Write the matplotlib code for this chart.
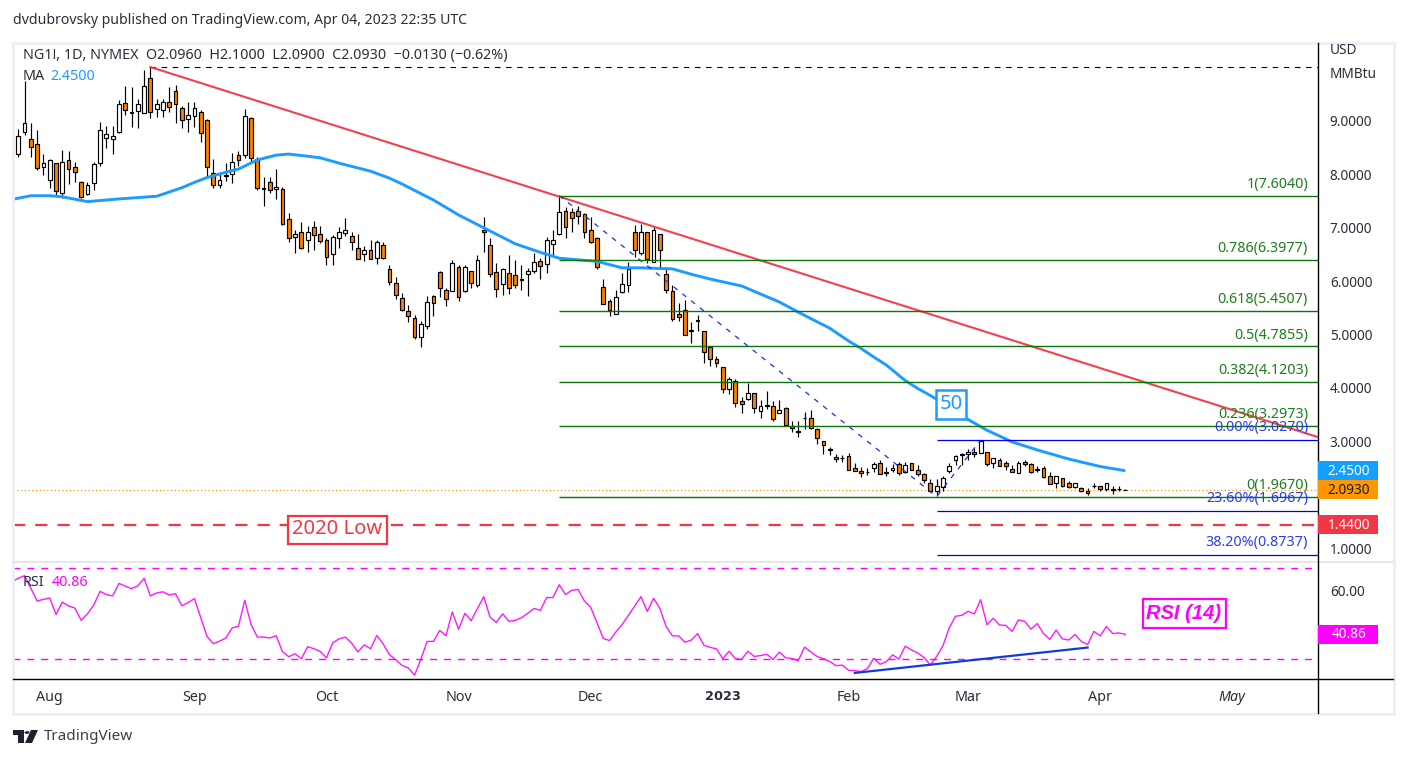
import matplotlib
matplotlib.use('Agg')
import matplotlib.pyplot as plt
from matplotlib.patches import Rectangle, Polygon, Circle

plt.rcParams['font.family'] = ['Noto Sans', 'DejaVu Sans']

# daily candles
opens = [8.38,8.79,8.67,8.56,8.13,7.89,8.21,7.65,8.26,8.13,7.85,7.64,7.83,8.21,8.69,8.66,8.79,9.33,9.16,9.18,9.14,9.80,9.22,9.21,9.35,9.57,9.24,9.04,9.10,9.16,
         9.01,8.02,7.81,7.98,8.00,8.36,8.37,9.05,8.28,7.74,7.85,7.72,7.72,7.16,6.82,6.92,6.77,7.01,6.88,6.78,6.50,6.80,6.90,6.84,6.63,6.50,6.58,6.43,6.67,6.23,
         5.96,5.68,5.44,5.31,4.95,5.17,5.72,6.17,5.83,5.81,6.26,5.81,6.19,5.92,6.95,6.67,6.17,5.94,6.15,6.11,6.05,6.13,6.19,6.37,6.32,6.69,6.88,7.31,7.29,7.31,
         7.25,6.95,6.80,5.89,5.62,5.38,5.79,5.92,6.93,6.52,6.93,6.35,6.88,6.13,5.81,5.38,5.46,5.08,5.27,5.06,4.76,4.54,4.39,3.99,4.14,3.75,3.79,3.90,3.56,3.68,
         3.66,3.54,3.62,3.28,3.19,3.44,3.43,3.23,3.00,2.85,2.70,2.69,2.72,2.50,2.44,2.43,2.50,2.59,2.42,2.46,2.57,2.42,2.59,2.46,2.39,2.22,2.07,2.15,2.44,2.65,
         2.76,2.76,2.80,2.78,2.81,2.59,2.65,2.59,2.48,2.41,2.61,2.57,2.48,2.51,2.35,2.23,2.31,2.22,2.14,2.12,2.08,2.17,2.17,2.10,2.10,2.11,2.096]
highs = [8.85,9.74,8.97,8.83,8.38,8.29,8.21,8.46,8.44,8.23,7.88,7.86,8.24,8.98,8.91,8.91,9.39,9.66,9.63,9.41,9.95,10.01,9.42,9.41,9.64,9.67,9.28,9.36,9.36,9.21,
         9.03,8.29,8.04,8.21,8.40,8.44,9.22,9.08,8.32,7.95,7.96,8.10,7.76,7.27,6.96,7.10,7.03,7.13,7.03,6.80,6.87,7.01,7.18,6.92,6.88,6.66,6.78,6.77,6.74,6.30,
         6.07,5.77,5.55,5.36,5.26,5.72,5.74,6.19,5.87,6.40,6.30,6.30,6.20,6.49,7.20,6.80,6.34,6.24,6.49,6.40,6.30,6.24,6.52,6.43,6.82,6.96,7.60,7.38,7.37,7.41,
         7.28,7.20,6.82,6.04,5.66,5.84,6.15,6.36,7.05,7.08,6.93,7.02,6.88,6.26,5.92,5.59,5.65,5.23,5.36,5.06,4.78,4.60,4.40,4.20,4.16,3.83,4.10,3.90,3.78,3.94,
         3.75,3.78,3.64,3.38,3.38,3.55,3.58,3.25,3.00,2.89,2.77,2.75,2.78,2.59,2.52,2.50,2.62,2.65,2.52,2.57,2.61,2.61,2.59,2.55,2.40,2.29,2.29,2.36,2.59,2.75,
         2.78,2.85,2.87,3.03,2.81,2.68,2.68,2.63,2.55,2.63,2.66,2.59,2.54,2.53,2.43,2.35,2.31,2.26,2.22,2.15,2.12,2.22,2.17,2.23,2.16,2.16,2.10]
lows = [8.33,8.74,8.33,8.08,7.99,7.74,7.61,7.55,7.82,7.85,7.55,7.61,7.70,8.16,8.50,8.38,8.78,9.11,8.89,8.86,9.14,9.05,9.07,9.08,9.17,8.97,8.86,8.80,8.89,8.61,
        7.96,7.75,7.74,7.88,7.83,8.15,8.30,8.21,7.71,7.40,7.65,7.54,7.05,6.74,6.52,6.61,6.55,6.58,6.71,6.30,6.30,6.63,6.85,6.58,6.41,6.37,6.41,6.33,6.41,5.92,
        5.67,5.44,5.24,4.91,4.76,5.11,5.34,5.71,5.54,5.81,5.62,5.79,5.87,5.90,6.55,6.07,5.71,5.75,5.76,5.87,5.84,5.72,6.16,6.05,6.15,6.47,6.87,6.80,6.93,7.08,
        6.80,6.71,6.22,5.57,5.34,5.38,5.77,5.79,6.46,6.49,6.34,6.35,6.22,5.77,5.26,5.26,4.99,4.84,5.07,4.46,4.42,4.39,3.90,3.89,3.65,3.53,3.78,3.54,3.43,3.61,
        3.39,3.53,3.30,3.18,3.09,3.24,3.23,2.96,2.77,2.75,2.62,2.62,2.46,2.44,2.34,2.37,2.43,2.39,2.35,2.42,2.38,2.40,2.46,2.35,2.23,2.05,1.97,2.08,2.40,2.55,
        2.56,2.65,2.70,2.78,2.53,2.50,2.53,2.47,2.42,2.40,2.53,2.40,2.42,2.32,2.20,2.13,2.15,2.13,2.13,2.06,1.99,2.12,2.08,2.08,2.02,2.08,2.09]
closes = [8.71,8.97,8.52,8.11,8.21,8.26,7.68,8.24,8.10,8.04,7.57,7.81,8.19,8.84,8.75,8.71,9.31,9.21,9.14,9.31,9.65,9.16,9.31,9.35,9.27,9.31,9.01,9.11,9.24,8.77,
          8.13,7.81,7.89,7.97,8.23,8.26,9.09,8.30,7.74,7.72,7.71,7.76,7.07,6.80,6.88,6.63,6.93,6.86,6.75,6.45,6.82,6.92,6.95,6.73,6.41,6.58,6.41,6.73,6.43,5.98,
          5.74,5.46,5.34,4.95,5.19,5.61,5.59,5.87,5.66,6.34,5.70,6.26,5.96,6.39,6.93,6.13,5.85,6.22,5.87,5.92,6.02,6.19,6.35,6.28,6.77,6.77,7.29,7.01,7.18,7.22,
          6.92,6.73,6.26,5.57,5.46,5.70,5.94,6.22,6.58,6.92,6.41,6.95,6.58,5.83,5.30,5.32,4.99,5.06,5.26,4.67,4.54,4.46,3.98,4.16,3.71,3.70,3.90,3.62,3.66,3.67,
          3.41,3.58,3.30,3.26,3.17,3.43,3.25,3.06,2.93,2.84,2.67,2.68,2.46,2.44,2.40,2.42,2.57,2.39,2.40,2.50,2.40,2.55,2.46,2.39,2.27,2.07,2.16,2.31,2.53,2.72,
          2.75,2.80,2.76,3.00,2.57,2.68,2.53,2.53,2.42,2.59,2.57,2.42,2.47,2.33,2.21,2.35,2.16,2.14,2.22,2.08,2.03,2.16,2.10,2.22,2.09,2.11,2.093]

# 50 day average, read at the bars where it bends
ma_idx = [-1,2,5,7,11,16,22,24,26,28,30,33,35,38,41,43,46,48,51,54,56,59,61,63,66,70,74,79,83,86,92,96,99,104,107,110,115,118,121,124,127,129,132,134,136,138,141,143,145,148,151,154,158,162,167,172,176]
ma_vals = [7.53,7.60,7.60,7.58,7.49,7.54,7.59,7.67,7.75,7.85,7.94,8.04,8.10,8.27,8.36,8.38,8.34,8.31,8.21,8.12,8.06,7.93,7.82,7.70,7.52,7.24,7.00,6.70,6.54,6.43,6.37,6.25,6.25,6.23,6.13,6.04,5.91,5.76,5.61,5.42,5.24,5.12,4.88,4.74,4.58,4.43,4.14,3.99,3.86,3.65,3.41,3.21,2.99,2.84,2.67,2.53,2.45]

rsi_vals = [65.4,66.6,61.0,55.5,56.2,56.8,49.6,55.0,53.3,52.4,47.0,49.9,53.7,59.7,58.3,57.7,63.2,62.0,60.9,62.1,65.4,57.7,59.0,59.5,58.1,58.7,53.4,54.8,56.5,48.2,
            40.0,36.8,37.9,39.3,43.7,44.4,55.8,45.3,39.7,39.7,39.3,40.3,33.3,31.1,32.4,30.2,35.5,34.6,33.4,30.6,37.2,38.9,39.7,37.0,33.2,36.3,34.6,40.4,36.7,32.0,
            29.8,27.3,26.2,23.0,30.0,37.8,37.8,42.6,40.3,50.7,43.1,50.1,46.9,52.1,57.4,48.4,46.1,49.9,46.6,47.0,48.2,50.1,52.2,51.4,57.0,57.0,62.6,58.3,60.2,60.5,
            55.5,52.7,46.0,39.1,38.2,41.9,45.2,49.2,53.3,57.4,50.9,56.7,52.2,44.3,40.2,40.2,37.4,38.4,41.2,36.1,35.2,34.5,30.3,33.5,30.2,30.0,33.5,31.2,31.6,32.2,
            29.9,33.1,30.6,30.3,29.4,35.3,33.2,31.2,30.2,29.0,27.2,27.4,25.2,25.0,24.6,25.9,30.4,27.8,28.9,31.9,30.1,35.7,34.1,32.7,30.8,27.4,31.2,35.9,43.7,48.8,
            49.2,51.0,49.8,56.1,45.1,47.9,45.0,44.8,42.2,47.2,46.6,43.2,45.6,41.2,38.7,42.8,38.9,38.4,40.8,37.8,36.4,42.2,40.2,44.3,41.2,41.5,40.86]

fib_levels = [7.6040, 6.3977, 5.4507, 4.7855, 4.1203, 3.2973, 1.9670]
fib_labels = ['1(7.6040)', '0.786(6.3977)', '0.618(5.4507)', '0.5(4.7855)', '0.382(4.1203)', '0.236(3.2973)', '0(1.9670)']
ext_levels = [3.0270, 1.6967, 0.8737]
ext_labels = ['0.00%(3.0270)', '23.60%(1.6967)', '38.20%(0.8737)']

price_ticks = [1, 3, 4, 5, 6, 7, 8, 9]
month_pos = [5, 28, 49, 70, 91, 112, 132, 151, 172, 193]
month_names = ['Aug', 'Sep', 'Oct', 'Nov', 'Dec', '2023', 'Feb', 'Mar', 'Apr', 'May']

W, H = 1406, 758
ORANGE = '#ff7f00'
BLUE = '#1e9bff'
RED = '#f23645'
GREEN = '#0a750a'
MAGENTA = '#ff00ff'
TEXT = '#2a2e39'
FRAME = '#eeeef4'
FS = 10.3
TICK_FS = 9.8

def box(x0, y0, x1, y1):
    # pixel box (from top left) to figure fractions
    return [x0 / W, 1 - y1 / H, (x1 - x0) / W, (y1 - y0) / H]

fig = plt.figure(figsize=(W / 100, H / 100), dpi=100, facecolor='white')
ax = fig.add_axes(box(13, 43, 1318, 561.5))
ax2 = fig.add_axes(box(13, 561.5, 1318, 679))

idx = list(range(len(opens)))
colors = [ORANGE if c < o else 'white' for o, c in zip(opens, closes)]
ax.vlines(idx, lows, highs, colors='black', lw=0.85, zorder=3)
ax.bar(idx, [abs(c - o) for o, c in zip(opens, closes)], bottom=[min(o, c) for o, c in zip(opens, closes)],
       width=0.6, color=colors, edgecolor='black', lw=0.85, zorder=3)
ax.plot(ma_idx, ma_vals, color=BLUE, lw=2.1, zorder=4, solid_capstyle='butt')

# drawings
xmax = 206.63
ax.plot([21, xmax], [10.01, 10.01], color='black', lw=0.8, dashes=(5, 5), zorder=5)
ax.plot([21, xmax], [10.01, 3.08], color=RED, lw=1.5, alpha=0.95, zorder=5)
ax.plot([-0.84, xmax], [1.44, 1.44], color=RED, lw=1.6, dashes=(5.5, 4.5), zorder=5)
ax.plot([-0.84, xmax], [2.093, 2.093], color='#ff9800', lw=0.9, ls=(0, (1, 2)), zorder=2)
ax.plot([86, 146, 153], [7.604, 1.967, 3.027], color='#1c30d8', lw=0.9, dashes=(4, 5), zorder=5)
ax.hlines(fib_levels, 86, xmax, color=GREEN, lw=1.0, zorder=5)
ax.hlines(ext_levels, 146, xmax, color='#0000ee', lw=0.9, zorder=5)

for lvl, lab in zip(fib_levels, fib_labels):
    ax.annotate(lab, xy=(1, lvl), xycoords=('axes fraction', 'data'), xytext=(-10, 11), textcoords='offset pixels',
                ha='right', va='center', fontsize=FS, color='#1e7d1e', zorder=6)
for lvl, lab in zip(ext_levels, ext_labels):
    ax.annotate(lab, xy=(1, lvl), xycoords=('axes fraction', 'data'), xytext=(-10, 12), textcoords='offset pixels',
                ha='right', va='center', fontsize=FS, color='#2a3cf0', zorder=6)

ax.set_xlim(-0.84, xmax)
ax.set_ylim(0.751, 10.46)
ax.yaxis.tick_right()
ax.set_yticks(price_ticks)
ax.set_yticklabels(['%.4f' % t for t in price_ticks], fontsize=TICK_FS, color=TEXT)
ax.tick_params(axis='y', length=0, pad=8.5)
ax.set_xticks([])

# rsi pane
ax2.plot([-1] + idx, [64.0] + rsi_vals, color=MAGENTA, lw=1.0, alpha=0.9, zorder=3)
ax2.axhline(70, color=MAGENTA, lw=1.0, dashes=(5, 5))
ax2.axhline(30, color=MAGENTA, lw=1.0, dashes=(5, 5))
ax2.plot([133, 170], [24.0, 35.1], color='#0f3ddb', lw=1.6, zorder=4)
ax2.set_xlim(-0.84, xmax)
ax2.set_ylim(21.34, 72.77)
ax2.yaxis.tick_right()
ax2.set_yticks([60])
ax2.set_yticklabels(['60.00'], fontsize=TICK_FS, color=TEXT)
ax2.tick_params(axis='y', length=0, pad=8.5)
ax2.set_xticks(month_pos)
ax2.set_xticklabels(month_names, fontsize=FS, color=TEXT)
ax2.tick_params(axis='x', length=0, pad=8)
for lab in ax2.get_xticklabels():
    if lab.get_text() == '2023':
        lab.set_family('DejaVu Sans')
        lab.set_fontweight('bold')
        lab.set_fontsize(9.3)
    if lab.get_text() == 'May':
        lab.set_fontstyle('italic')

for a in (ax, ax2):
    for s in a.spines.values():
        s.set_visible(False)

def fig_rect(x0, y0, x1, y1, **kw):
    fig.add_artist(Rectangle((x0 / W, 1 - y1 / H), (x1 - x0) / W, (y1 - y0) / H, transform=fig.transFigure, **kw))

def fig_line(x0, y0, x1, y1, color, lw):
    fig.add_artist(plt.Line2D([x0 / W, x1 / W], [1 - y0 / H, 1 - y1 / H], color=color, lw=lw, transform=fig.transFigure))

def fig_text(x, y, s, **kw):
    kw.setdefault('fontsize', FS)
    kw.setdefault('color', TEXT)
    kw.setdefault('va', 'center')
    return fig.text(x / W, 1 - y / H, s, **kw)

# frame and pane rules
fig_rect(12.5, 42.5, 1393.5, 714, fill=False, ec=FRAME, lw=2)
fig_line(13, 561.5, 1393, 561.5, '#e2e3e8', 1.2)
fig_line(13, 679, 1393, 679, 'black', 1.0)
fig_line(1318, 43, 1318, 713, 'black', 1.0)

# header
fig_text(13, 20, 'dvdubrovsky published on TradingView.com, Apr 04, 2023 22:35 UTC', fontsize=10.15)
fig_text(23, 55, 'NG1!, 1D, NYMEX  O2.0960  H2.1000  L2.0900  C2.0930  \u22120.0130 (\u22120.62%)')
fig_text(23, 76, 'MA')
fig_text(50, 76, '2.4500', color=BLUE)
fig_text(23, 583, 'RSI')
fig_text(52, 583, '40.86', color=MAGENTA)
fig_text(1330, 50, 'USD', fontsize=TICK_FS)
fig_text(1330, 74, 'MMBtu', fontsize=TICK_FS)

# price tags on the axis
def price_tag(axis, value, label, bg, fg):
    y = H - axis.transData.transform((0, value))[1]
    fig.add_artist(Rectangle((1318 / W, 1 - (y + 9.5) / H), 60 / W, 19 / H, transform=fig.transFigure,
                             fc=bg, ec='none', zorder=6))
    fig_text(1349, y + 0.5, label, ha='center', color=fg, fontsize=TICK_FS, zorder=7)

price_tag(ax, 2.45, '2.4500', '#13a0ff', 'white')
price_tag(ax, 2.093, '2.0930', '#ff9800', '#1a1a1a')
price_tag(ax, 1.44, '1.4400', RED, 'white')
price_tag(ax2, 40.86, '40.86', MAGENTA, 'white')

# text callouts
fig_rect(288, 516, 387, 544, fc='white', ec=RED, lw=1.6, zorder=6)
fig_text(337.5, 529.5, '2020 Low', fontsize=14.5, color=RED, ha='center', zorder=7)
fig_rect(936, 390, 966, 419, fc='white', ec=BLUE, lw=1.8, zorder=6)
fig_text(951, 404, '50', fontsize=14.5, color=BLUE, ha='center', zorder=7)
fig_rect(1143, 599, 1225.5, 628, fc='white', ec=MAGENTA, lw=1.6, zorder=6)
fig_text(1184, 613.5, 'RSI (14)', fontsize=14.5, color=MAGENTA, ha='center', style='italic', fontweight='bold',
         family='Liberation Sans', zorder=7)

# logo
logo_dark = '#1c2030'
fig.add_artist(Polygon([(13 / W, 1 - 730 / H), (24 / W, 1 - 730 / H), (24 / W, 1 - 743 / H), (18 / W, 1 - 743 / H),
                        (18 / W, 1 - 735 / H), (13 / W, 1 - 735 / H)], transform=fig.transFigure, fc=logo_dark, ec='none'))
fig.add_artist(Circle((27 / W, 1 - 732.5 / H), 2.5 / W, transform=fig.transFigure, fc=logo_dark, ec='none'))
fig.add_artist(Polygon([(31 / W, 1 - 730 / H), (38 / W, 1 - 730 / H), (32 / W, 1 - 743 / H), (25 / W, 1 - 743 / H)],
                       transform=fig.transFigure, fc=logo_dark, ec='none'))
fig_text(44, 737, 'TradingView', fontsize=11, color='#3c404c')

fig.savefig('out.png', dpi=100)
